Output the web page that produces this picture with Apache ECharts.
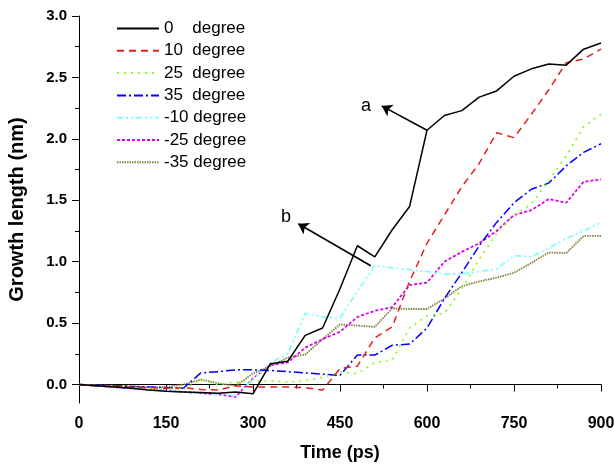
<!DOCTYPE html>
<html>
<head>
<meta charset="utf-8">
<script src="https://cdn.jsdelivr.net/npm/echarts@6/dist/echarts.min.js"></script>
<style>html,body{margin:0;padding:0;background:#fff}#c{width:614px;height:466px}</style>
</head>
<body>
<div id="c"></div>
<script>
var times = [0,30,60,90,120,150,180,210,240,270,300,330,360,390,420,450,480,510,540,570,600,630,660,690,720,750,780,810,840,870,900];
var deg0   = [0,-0.01,-0.02,-0.03,-0.045,-0.055,-0.06,-0.065,-0.07,-0.06,-0.075,0.17,0.19,0.40,0.46,0.78,1.13,1.04,1.26,1.45,2.07,2.19,2.23,2.34,2.39,2.51,2.57,2.61,2.60,2.73,2.78];
var deg10  = [0,-0.01,-0.015,-0.02,-0.025,-0.03,-0.025,-0.04,-0.045,-0.01,-0.02,-0.02,-0.02,-0.025,-0.045,0.13,0.15,0.38,0.47,0.84,1.15,1.38,1.61,1.80,2.05,2.01,2.20,2.40,2.62,2.65,2.73];
var deg25  = [0,-0.01,-0.015,-0.02,-0.03,-0.035,-0.04,0.04,0.0,0.02,0.03,0.03,0.02,0.03,0.06,0.10,0.09,0.18,0.20,0.46,0.56,0.58,0.78,1.02,1.23,1.38,1.47,1.66,1.86,2.10,2.20];
var deg35  = [0,-0.005,-0.01,-0.015,-0.02,-0.025,-0.03,0.095,0.105,0.12,0.12,0.115,0.105,0.095,0.085,0.075,0.24,0.24,0.32,0.33,0.46,0.70,0.91,1.13,1.32,1.48,1.59,1.64,1.78,1.89,1.96];
var degm10 = [0,-0.01,-0.02,-0.03,-0.04,-0.05,-0.06,-0.07,-0.08,-0.09,0.04,0.18,0.25,0.58,0.55,0.54,0.76,0.97,0.95,0.935,0.92,0.90,0.90,0.92,0.94,1.05,1.04,1.11,1.19,1.25,1.32];
var degm25 = [0,-0.01,-0.02,-0.03,-0.04,-0.05,-0.06,-0.07,-0.08,-0.10,0.05,0.16,0.18,0.30,0.37,0.43,0.55,0.60,0.63,0.81,0.83,1.00,1.08,1.15,1.25,1.38,1.42,1.51,1.48,1.65,1.67];
var degm35 = [0,-0.005,-0.01,-0.015,-0.02,-0.02,0.0,0.04,0.01,-0.01,0.09,0.15,0.22,0.245,0.37,0.49,0.48,0.47,0.62,0.615,0.615,0.70,0.80,0.84,0.87,0.91,0.99,1.075,1.07,1.21,1.21];
var seriesNames = ['0    degree','10  degree','25  degree','35  degree','-10 degree','-25 degree','-35 degree'];
var yMajorTicks = [0,0.5,1.0,1.5,2.0,2.5,3.0];
var yMinorTicks = [0.25,0.75,1.25,1.75,2.25,2.75];
var arrowA = [[600,2.07],[522,2.268]];
var arrowB = [[503,0.967],[378,1.309]];
var labelA = [495,2.27];
var labelB = [357,1.36];

var allData = [deg0,deg10,deg25,deg35,degm10,degm25,degm35];
var colors = ['#000000','#e02020','#88ff22','#0000ff','#80ffff','#dd00ee','#808040'];
var dashes = ['solid',[7,5],[2,5],[9,3,2,3],[6,3,2,3,2,3],[3,2],[1.5,1]];
var widths = [1.5,1.5,1.8,1.5,1.8,1.8,1.8];

function pairs(arr){ return times.map(function(t,i){ return [t, arr[i]]; }); }

var series = allData.map(function(d,i){
  return {
    name: seriesNames[i], type:'line', data: pairs(d), symbol:'none',
    lineStyle:{color:colors[i], width:widths[i], type:dashes[i]},
    itemStyle:{color:colors[i]},
    z: 10 - i
  };
});
series[0].markLine = {
  symbol:['none','arrow'], symbolSize:10, silent:true, animation:false,
  lineStyle:{color:'#000', width:1.5, type:'solid'},
  label:{show:false},
  data:[
    [{coord:arrowA[0]},{coord:arrowA[1]}],
    [{coord:arrowB[0]},{coord:arrowB[1]}]
  ]
};
series[0].markPoint = {
  symbol:'circle', symbolSize:0, silent:true, animation:false,
  label:{show:true, position:'inside', color:'#000', fontSize:18, fontFamily:'Liberation Sans', formatter:function(p){return p.name;}},
  data:[{name:'a', coord:labelA},{name:'b', coord:labelB}]
};

var font = 'Liberation Sans';
var chart = echarts.init(document.getElementById('c'), null, {renderer:'canvas'});
chart.setOption({
  animation:false,
  backgroundColor:'#fff',
  grid:{left:79, right:13, top:16, bottom:63, containLabel:false, outerBoundsMode:'none'},
  legend:{
    orient:'vertical', left:116, top:20, padding:0,
    itemWidth:42, itemHeight:14, itemGap:5.3,
    itemStyle:{opacity:0},
    textStyle:{fontSize:17, fontFamily:font, color:'#000', lineHeight:14},
    data: seriesNames
  },
  xAxis:{
    type:'value', min:0, max:900, interval:150,
    name:'Time (ps)', nameLocation:'middle', nameGap:41,
    nameTextStyle:{fontSize:18, fontWeight:'bold', fontFamily:font, color:'#000'},
    axisLine:{show:true, lineStyle:{color:'#000', width:1}},
    axisTick:{show:true, inside:false, length:7, lineStyle:{color:'#000'}},
    minorTick:{show:true, splitNumber:2, length:4, lineStyle:{color:'#000'}},
    axisLabel:{fontSize:16, fontWeight:'bold', fontFamily:font, color:'#000', margin:13},
    splitLine:{show:false}
  },
  yAxis:[{
    type:'value', min:-0.15, max:3.0,
    name:'Growth length (nm)', nameLocation:'middle', nameGap:52, nameRotate:90,
    nameTextStyle:{fontSize:20, fontWeight:'bold', fontFamily:font, color:'#000'},
    axisLine:{show:true, lineStyle:{color:'#000', width:1}},
    axisTick:{show:true, inside:false, length:7, customValues:yMajorTicks, lineStyle:{color:'#000'}},
    axisLabel:{fontSize:15, fontWeight:'bold', fontFamily:font, color:'#000', margin:12, customValues:yMajorTicks,
      formatter:function(v){return v.toFixed(1);}},
    splitLine:{show:false}
  },{
    type:'value', min:-0.15, max:3.0, position:'left',
    axisLine:{show:false},
    axisTick:{show:true, inside:false, length:4, customValues:yMinorTicks, lineStyle:{color:'#000'}},
    axisLabel:{show:false},
    splitLine:{show:false}
  }],
  series: series
});
</script>
</body>
</html>
